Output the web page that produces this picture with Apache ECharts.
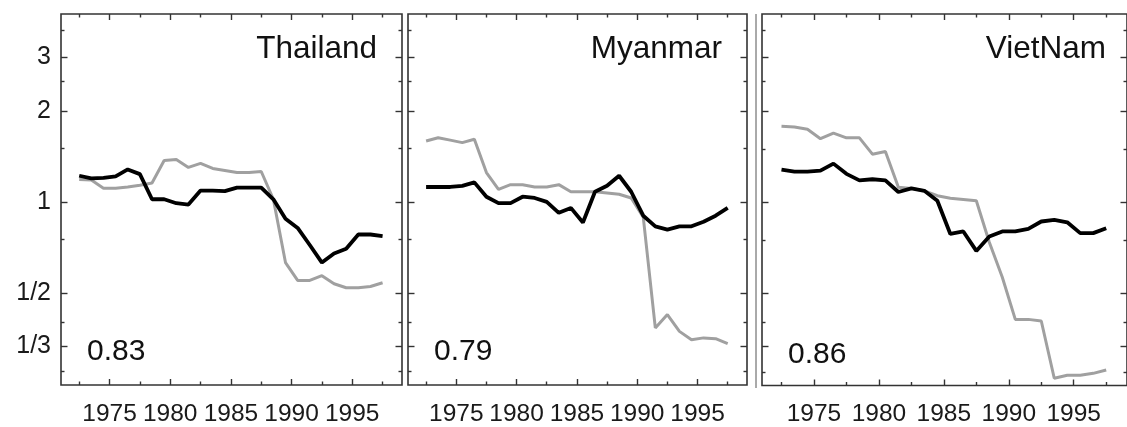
<!DOCTYPE html>
<html>
<head>
<meta charset="utf-8">
<script src="https://cdn.jsdelivr.net/npm/echarts@6/dist/echarts.min.js"></script>
<style>
  html, body { margin: 0; padding: 0; background: #fff; }
  #chart { width: 1127px; height: 427px; }
</style>
</head>
<body>
<div id="chart"></div>
<script>
var chartDom = document.getElementById('chart');
var myChart = echarts.init(chartDom);

// mid-year positions of the yearly points
var years = [1972.5, 1973.5, 1974.5, 1975.5, 1976.5, 1977.5, 1978.5, 1979.5, 1980.5, 1981.5,
  1982.5, 1983.5, 1984.5, 1985.5, 1986.5, 1987.5, 1988.5, 1989.5, 1990.5, 1991.5,
  1992.5, 1993.5, 1994.5, 1995.5, 1996.5, 1997.5];

var countries = ['Thailand', 'Myanmar', 'VietNam'];
var scores = ['0.83', '0.79', '0.86'];

var thaiBlack = [1.22, 1.195, 1.20, 1.215, 1.28, 1.235, 1.02, 1.02, 0.99, 0.98, 1.09, 1.09, 1.085,
  1.115, 1.115, 1.115, 1.02, 0.88, 0.82, 0.72, 0.63, 0.675, 0.70, 0.78, 0.78, 0.77];
var thaiGray = [1.185, 1.18, 1.11, 1.11, 1.12, 1.135, 1.155, 1.37, 1.38, 1.30, 1.34, 1.29, 1.27,
  1.25, 1.25, 1.26, 1.02, 0.63, 0.55, 0.55, 0.57, 0.536, 0.52, 0.52, 0.525, 0.54];

var myanBlack = [1.12, 1.12, 1.12, 1.13, 1.16, 1.04, 0.99, 0.99, 1.04, 1.03, 1.00, 0.92, 0.955,
  0.855, 1.08, 1.13, 1.22, 1.08, 0.90, 0.83, 0.81, 0.83, 0.83, 0.86, 0.90, 0.955];
var myanGray = [1.59, 1.63, 1.60, 1.57, 1.61, 1.25, 1.10, 1.14, 1.14, 1.12, 1.12, 1.14, 1.08,
  1.08, 1.08, 1.07, 1.06, 1.03, 0.89, 0.383, 0.424, 0.373, 0.35, 0.355, 0.353, 0.34];

var vietBlack = [1.28, 1.26, 1.26, 1.27, 1.34, 1.24, 1.18, 1.19, 1.18, 1.08, 1.11, 1.09, 1.01,
  0.785, 0.80, 0.69, 0.77, 0.80, 0.80, 0.816, 0.863, 0.874, 0.858, 0.79, 0.79, 0.82];
var vietGray = [1.78, 1.77, 1.74, 1.62, 1.69, 1.63, 1.63, 1.44, 1.47, 1.12, 1.11, 1.09, 1.05,
  1.03, 1.02, 1.01, 0.737, 0.565, 0.41, 0.41, 0.405, 0.262, 0.268, 0.268, 0.272, 0.279];

var blackSeries = [thaiBlack, myanBlack, vietBlack];
var graySeries = [thaiGray, myanGray, vietGray];

var xMajor = [1975, 1980, 1985, 1990, 1995];
var xMinor = [1972.5, 1977.5, 1982.5, 1987.5, 1992.5, 1997.5];
var yMajor = [1 / 3, 1 / 2, 1, 2, 3];
var yMajorLabels = ['1/3', '1/2', '1', '2', '3'];
var yMinor = [0.275, 0.4, 0.75, 1.5, 2.5, 3.7];

var font = 'Liberation Sans';
var edge = '#333';

var grids = [
  { left: 61, top: 14, width: 341, height: 371 },
  { left: 408, top: 14, width: 339, height: 371 },
  { left: 762, top: 14, width: 369, height: 373.5 }
];

function yLabel(v) {
  var best = 0;
  for (var i = 1; i < yMajor.length; i++) {
    if (Math.abs(Math.log(yMajor[i] / v)) < Math.abs(Math.log(yMajor[best] / v))) best = i;
  }
  return yMajorLabels[best];
}

var xAxes = [];
var yAxes = [];
var series = [];
var titles = [];

grids.forEach(function (g, i) {
  ['bottom', 'top'].forEach(function (pos) {
    [[xMajor, 6], [xMinor, 3.5]].forEach(function (t, j) {
      xAxes.push({
        type: 'value', gridIndex: i, position: pos, min: 1971, max: 1999.1,
        axisLine: { show: false },
        splitLine: { show: false },
        axisTick: { inside: true, length: t[1], customValues: t[0], lineStyle: { color: edge, width: 1.4 } },
        axisLabel: {
          show: pos === 'bottom' && j === 0, customValues: t[0], margin: 16.5,
          fontFamily: font, fontSize: 24.5, color: '#1a1a1a',
          formatter: function (v) { return String(v); }
        }
      });
    });
  });
  ['left', 'right'].forEach(function (pos) {
    [[yMajor, 6.5], [yMinor, 3.5]].forEach(function (t, j) {
      yAxes.push({
        type: 'log', logBase: 2, gridIndex: i, position: pos, min: 0.248, max: 4.18,
        axisLine: { show: false },
        splitLine: { show: false },
        axisTick: { inside: true, length: t[1], customValues: t[0], lineStyle: { color: edge, width: 1.4 } },
        axisLabel: {
          show: i === 0 && pos === 'left' && j === 0, customValues: t[0], margin: 10,
          fontFamily: font, fontSize: 25, color: '#1a1a1a', formatter: yLabel
        }
      });
    });
  });
  var xi = i * 4, yi = i * 4;
  var pair = function (vals) {
    return vals.map(function (v, k) { return [years[k], v]; });
  };
  series.push({
    type: 'line', xAxisIndex: xi, yAxisIndex: yi, symbol: 'none', z: 2,
    lineStyle: { color: '#a0a0a0', width: 3 }, data: pair(graySeries[i])
  });
  series.push({
    type: 'line', xAxisIndex: xi, yAxisIndex: yi, symbol: 'none', z: 3,
    lineStyle: { color: '#000', width: 3.8 }, data: pair(blackSeries[i])
  });
  titles.push({
    text: countries[i], right: 1127 - (g.left + g.width - 25), top: 33, padding: 0,
    textStyle: { fontFamily: font, fontSize: 31.5, fontWeight: 'normal', color: '#111' }
  });
  titles.push({
    text: scores[i], left: g.left + 26, top: 337 + (g.height - 371), padding: 0,
    textStyle: { fontFamily: font, fontSize: 30, fontWeight: 'normal', color: '#111' }
  });
});

var option = {
  backgroundColor: '#fff',
  animation: false,
  title: titles,
  grid: grids.map(function (g) {
    return {
      left: g.left, top: g.top, width: g.width, height: g.height,
      show: true, borderColor: edge, borderWidth: 1.6, backgroundColor: 'transparent'
    };
  }),
  xAxis: xAxes,
  yAxis: yAxes,
  series: series,
  graphic: [
    {
      // thin extra frame line left of the third panel
      type: 'line', shape: { x1: 756, y1: 14, x2: 756, y2: 388 },
      style: { stroke: '#555', lineWidth: 1 }
    }
  ]
};

myChart.setOption(option);
</script>
</body>
</html>
